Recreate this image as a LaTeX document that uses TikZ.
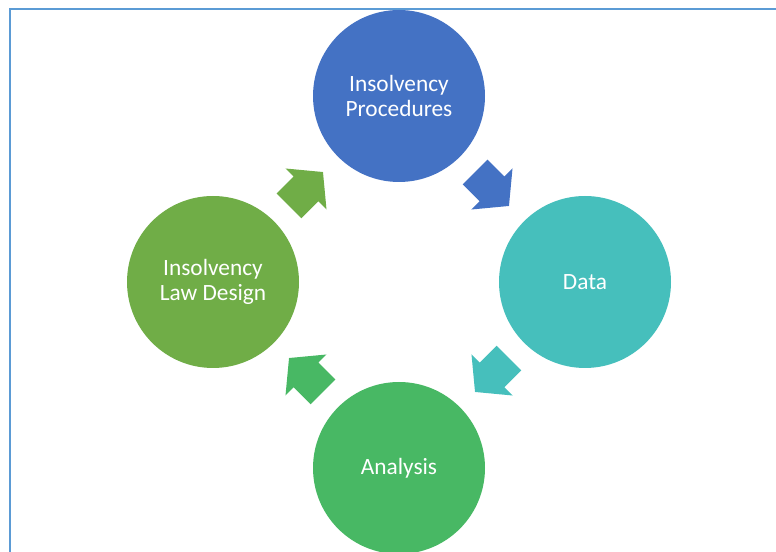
\documentclass[tikz,border=0pt]{standalone}
\usepackage{fontspec}
\setmainfont{Carlito}
\usepackage{tikz}
\usepackage{xcolor}
\usetikzlibrary{calc}

\definecolor{frameblue}{HTML}{5B9BD5}
\definecolor{procblue}{HTML}{4472C4}
\definecolor{datateal}{HTML}{46BFBC}
\definecolor{anagreen}{HTML}{48B864}
\definecolor{lawgreen}{HTML}{70AD47}

\begin{document}
\begin{tikzpicture}[
  x=0.75pt, y=-0.75pt,
  every node/.style={font=\fontsize{17.5}{19.3}\selectfont, text=white, align=center},
  stage/.style={circle, minimum size=129pt, inner sep=0pt},
  cyclearrow/.pic={
    \path[pic actions] (-24,-17.5) -- (0,-17.5) -- (0,-29) -- (24,0)
      -- (0,29) -- (0,17.5) -- (-24,17.5) -- cycle;}
]
\useasboundingbox (0,0) rectangle (776,552);

% ---- FRAME ----
\draw[line width=2pt, frameblue] (10,560) -- (10,9) -- (780,9);

% ---- STAGES of the cycle ----
\node[stage, fill=procblue] (proc) at (399,96) {Insolvency\\Procedures};
\node[stage, fill=datateal] (data) at (585,282) {Data};
\node[stage, fill=anagreen] (ana) at (399,468) {Analysis};
\node[stage, fill=lawgreen] (law) at (213,282) {Insolvency\\Law Design};

% ---- ARROWS between stages (clockwise) ----
\pic[fill=procblue, rotate=-45] (arrA) at ($(proc)!0.5!(data)$) {cyclearrow};
\pic[fill=datateal, rotate=-135] (arrB) at ($(data)!0.5!(ana)$) {cyclearrow};
\pic[fill=anagreen, rotate=135] (arrC) at ($(ana)!0.5!(law)$) {cyclearrow};
\pic[fill=lawgreen, rotate=45] (arrD) at ($(law)!0.5!(proc)$) {cyclearrow};

\end{tikzpicture}
\end{document}
